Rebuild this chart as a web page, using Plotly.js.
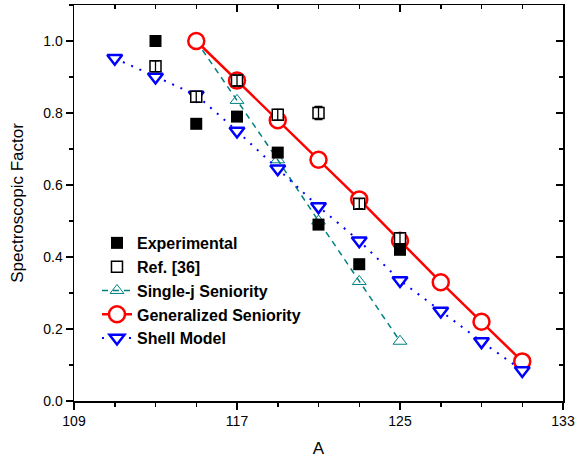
<!DOCTYPE html>
<html>
<head>
<meta charset="utf-8">
<script src="https://cdn.plot.ly/plotly-3.0.1.min.js"></script>
<style>html,body{margin:0;padding:0;background:#fff;}#chart{width:588px;height:458px;}</style>
</head>
<body>
<div id="chart"></div>
<script>
// Data
const expA = [113, 115, 117, 119, 121, 123, 125];
const expSF = [1.0, 0.77, 0.79, 0.69, 0.49, 0.38, 0.42];

const refA = [113, 115, 117, 119, 121, 123, 125];
const refSF = [0.93, 0.845, 0.89, 0.795, 0.80, 0.548, 0.452];
const refErr = [0.015, 0.015, 0.015, 0.015, 0.018, 0.014, 0.015];

const sjA = [115, 117, 119, 121, 123, 125];
const sjSF = [1.0, 0.835, 0.67, 0.5, 0.332, 0.166];

const gsA = [115, 117, 119, 121, 123, 125, 127, 129, 131];
const gsSF = [1.0, 0.89, 0.78, 0.67, 0.56, 0.445, 0.33, 0.22, 0.11];

const smA = [111, 113, 115, 117, 119, 121, 123, 125, 127, 129, 131];
const smSF = [0.952, 0.90, 0.85, 0.75, 0.645, 0.54, 0.445, 0.335, 0.25, 0.165, 0.085];

const xTickVals = [109, 117, 125, 133];
const yTickVals = [0.0, 0.2, 0.4, 0.6, 0.8, 1.0];
const yTickText = ['0.0', '0.2', '0.4', '0.6', '0.8', '1.0'];

const fam = 'Arial, "Liberation Sans", sans-serif';

const traces = [
  {
    name: 'Single-j Seniority', x: sjA, y: sjSF, type: 'scatter', mode: 'lines+markers',
    line: {color: '#008080', width: 1.5, dash: '6px,5px'},
    marker: {symbol: 'triangle-up-open', size: 12, color: '#008080', line: {width: 1, color: '#008080'}},
    legendrank: 3
  },
  {
    name: 'Generalized Seniority', x: gsA, y: gsSF, type: 'scatter', mode: 'lines+markers',
    line: {color: '#ff0000', width: 2.5},
    marker: {symbol: 'circle', size: 16, color: '#ffffff', line: {width: 2.5, color: '#ff0000'}},
    legendrank: 4
  },
  {
    name: 'Shell Model', x: smA, y: smSF, type: 'scatter', mode: 'lines+markers',
    line: {color: '#0000ff', width: 2, dash: '2px,7px'},
    marker: {symbol: 'triangle-down', size: 13, color: '#ffffff', line: {width: 2.5, color: '#0000ff'}},
    legendrank: 5
  },
  {
    name: 'Experimental', x: expA, y: expSF, type: 'scatter', mode: 'markers',
    marker: {symbol: 'square', size: 12, color: '#000000', line: {width: 0}},
    legendrank: 1
  },
  {
    name: 'Ref. [36]', x: refA, y: refSF, type: 'scatter', mode: 'markers',
    marker: {symbol: 'square', size: 11, color: '#ffffff', line: {width: 1.5, color: '#000000'}},
    legendrank: 2
  },
  {
    // error bars of Ref. [36], drawn over the open squares as in the reference
    x: refA, y: refSF, type: 'scatter', mode: 'markers',
    marker: {size: 1, opacity: 0},
    error_y: {type: 'data', array: refErr, visible: true, color: '#000000', thickness: 1.3, width: 4},
    showlegend: false, hoverinfo: 'skip'
  },
  {
    x: [109], y: [0], xaxis: 'x2', yaxis: 'y2', type: 'scatter', mode: 'markers',
    marker: {opacity: 0}, showlegend: false, hoverinfo: 'skip'
  }
];

const axisFont = {family: fam, size: 14, color: '#000'};

const layout = {
  width: 588, height: 458,
  margin: {l: 74, r: 25, t: 5, b: 57},
  paper_bgcolor: '#fff', plot_bgcolor: '#fff',
  font: axisFont,
  showlegend: true,
  legend: {
    x: 0.047, y: 0.442, xanchor: 'left', yanchor: 'top',
    bgcolor: 'rgba(0,0,0,0)', borderwidth: 0,
    font: {family: fam, size: 16, color: '#000', weight: 'bold'},
    tracegroupgap: 0, itemwidth: 30
  },
  xaxis: {
    range: [109, 133], tickvals: xTickVals, ticktext: xTickVals.map(String),
    ticks: 'outside', ticklen: 7, tickwidth: 1.5, tickcolor: '#000',
    showline: true, linecolor: '#000', linewidth: 1.5, showgrid: false, zeroline: false,
    minor: {dtick: 2, tick0: 109, ticks: 'outside', ticklen: 4, tickwidth: 1.5, tickcolor: '#000', showgrid: false},
    tickfont: axisFont,
    title: {text: 'A', font: {family: fam, size: 17}, standoff: 17}
  },
  yaxis: {
    range: [0, 1.1], tickvals: yTickVals, ticktext: yTickText,
    ticks: 'outside', ticklen: 7, tickwidth: 1.5, tickcolor: '#000',
    showline: true, linecolor: '#000', linewidth: 1.5, showgrid: false, zeroline: false,
    minor: {dtick: 0.1, tick0: 0, ticks: 'outside', ticklen: 4, tickwidth: 1.5, tickcolor: '#000', showgrid: false},
    tickfont: axisFont,
    title: {text: 'Spectroscopic Factor', font: {family: fam, size: 17}, standoff: 15}
  },
  xaxis2: {
    overlaying: 'x', side: 'top', range: [109, 133], tickvals: xTickVals, showticklabels: false,
    ticks: 'inside', ticklen: 7, tickwidth: 1.5, tickcolor: '#000',
    showline: true, linecolor: '#000', linewidth: 1.5, showgrid: false, zeroline: false,
    minor: {dtick: 2, tick0: 109, ticks: 'inside', ticklen: 4, tickwidth: 1.5, tickcolor: '#000', showgrid: false}
  },
  yaxis2: {
    overlaying: 'y', side: 'right', range: [0, 1.1], tickvals: yTickVals, showticklabels: false,
    ticks: 'inside', ticklen: 7, tickwidth: 1.5, tickcolor: '#000',
    showline: true, linecolor: '#000', linewidth: 1.5, showgrid: false, zeroline: false,
    minor: {dtick: 0.1, tick0: 0, ticks: 'inside', ticklen: 4, tickwidth: 1.5, tickcolor: '#000', showgrid: false}
  }
};

Plotly.newPlot('chart', traces, layout, {staticPlot: true, displayModeBar: false});
</script>
</body>
</html>
